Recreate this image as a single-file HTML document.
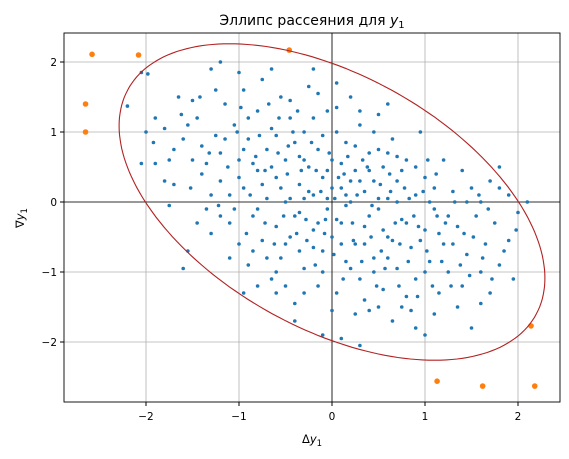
<!DOCTYPE html>
<html><head><meta charset="utf-8">
<style>
html,body{margin:0;padding:0;background:#fff;}
svg{display:block;font-family:"DejaVu Sans","Liberation Sans",sans-serif;}
</style></head>
<body>
<svg id="chart" width="569" height="459">
<text x="312" y="25" text-anchor="middle" font-size="14">Эллипс рассеяния для <tspan font-family="DejaVu Sans" font-style="italic">y</tspan><tspan font-size="10" dy="3">1</tspan></text>
<text x="312" y="443" text-anchor="middle" font-size="11.5">Δ<tspan font-style="italic">y</tspan><tspan font-size="8.5" dy="3">1</tspan></text>
<text transform="translate(24,218) rotate(-90)" text-anchor="middle" font-size="11.5">∇<tspan font-style="italic">y</tspan><tspan font-size="8.5" dy="3">1</tspan></text>
<g id="grid"></g><g id="ticks"></g>
<clipPath id="clip"><rect x="64" y="33" width="496" height="369"/></clipPath>
<g id="marks" clip-path="url(#clip)"></g>
<rect x="64" y="33" width="496" height="369" fill="none" stroke="#000" stroke-width="0.9"/>
</svg>
<script>
const xTicks=[-2,-1,0,1,2];
const yTicks=[-2,-1,0,1,2];
const outliers=[[-2.58,2.11],[-2.08,2.1],[-0.46,2.17],[-2.65,1.4],[-2.65,1.0],[2.14,-1.77],[1.13,-2.56],[1.62,-2.63],[2.18,-2.63]];
const cov=[[5.24,-2.49],[-2.49,5.11]];
const points=[[-2.2,1.37],[-2.05,1.85],[-1.98,1.83],[-2.05,0.55],[-1.92,0.85],[-1.6,-0.95],[-1.55,-0.7],[-1.3,1.9],[-1.2,2.0],[-1.0,1.85],[-0.95,-1.3],[-0.5,-1.2],[-0.1,-1.9],[0.3,-2.05],[0.1,-1.95],[1.0,-1.9],[1.1,-1.6],[1.5,-1.8],[1.6,-1.45],[1.8,-0.9],[1.95,-1.1],[1.98,-0.4],[2.1,0.0],[1.8,0.5],[1.4,0.45],[1.6,0.0],
[-1.9,1.2],[-1.8,1.05],[-1.75,0.6],[-1.7,0.25],[-1.65,1.5],[-1.5,1.45],[-1.45,1.2],[-1.4,0.8],[-1.4,0.4],[-1.35,-0.1],[-1.3,-0.45],[-1.25,0.95],[-1.2,0.7],[-1.2,0.3],[-1.15,1.4],[-1.1,0.1],[-1.1,-0.3],[-1.05,1.1],[-1.0,0.6],[-1.0,-0.6],[-0.95,1.6],[-0.95,0.2],[-0.9,-0.9],[-0.9,0.9],[-0.85,-0.2],[-0.8,1.3],[-0.8,0.45],[-0.75,-0.55],[-0.75,1.75],[-0.7,0.05],[-0.7,0.75],[-0.65,-1.1],[-0.65,1.05],[-0.6,0.35],[-0.6,-0.35],[-0.55,1.5],[-0.55,-0.8],[-0.5,0.6],[-0.5,0.0],[-0.45,1.2],[-0.45,-0.5],[-0.4,0.85],[-0.4,-1.45],[-0.35,0.25],[-0.35,-0.15],[-0.3,1.0],[-0.3,-0.95],[-0.25,0.5],[-0.25,1.65],[-0.2,-0.4],[-0.2,0.1],[-0.15,0.75],[-0.15,-1.2],[-0.1,0.35],[-0.1,-0.7],[-0.05,1.3],[-0.05,-0.1],[0.0,0.6],[0.0,-0.5],[0.05,1.0],[0.05,-1.3],[0.1,0.2],[0.1,-0.3],[0.15,0.85],[0.15,-0.85],[0.2,1.5],[0.2,0.0],[0.25,-0.6],[0.25,0.45],[0.3,-1.1],[0.3,1.1],[0.35,0.15],[0.35,-0.35],[0.4,-1.55],[0.4,0.7],[0.45,-0.8],[0.45,0.3],[0.5,-0.1],[0.5,1.25],[0.55,-1.25],[0.55,0.5],[0.6,-0.5],[0.6,0.05],[0.65,-1.7],[0.65,0.9],[0.7,-0.95],[0.7,0.3],[0.75,-0.25],[0.8,-1.35],[0.8,0.6],[0.85,-0.65],[0.9,0.1],[0.9,-1.1],[0.95,1.0],[1.0,-0.4],[1.0,0.35],[1.05,-0.85],[1.1,-0.1],[1.15,-1.3],[1.2,0.6],[1.2,-0.6],[1.25,-1.0],[1.3,0.15],[1.35,-0.35],[1.4,-1.2],[1.45,-0.75],[1.5,0.2],[1.55,-0.2],[1.65,-0.6],[1.7,0.3],[1.75,-0.3],[1.85,-0.7],[1.9,0.1],
[-1.6,0.9],[-1.3,0.1],[-1.1,-0.8],[-0.85,0.55],[-0.7,-0.8],[-0.55,0.2],[-0.4,-0.2],[-0.3,0.6],[-0.2,-0.65],[-0.1,0.95],[0.0,0.2],[0.05,-0.25],[0.1,0.55],[0.2,-0.95],[0.3,0.3],[0.4,-0.2],[0.5,0.75],[0.6,-0.8],[0.7,0.0],[0.8,-0.3],[0.9,0.5],[1.0,-1.0],[1.1,0.2],[1.3,-0.6],[-0.6,0.95],[-0.5,-0.6],[-0.25,0.15],[-0.15,-0.3],[0.15,0.1],[0.35,-0.6],[0.45,1.0],[0.55,-0.4],[0.75,0.45],[0.95,-0.55],[-1.0,0.35],[-0.9,1.2],[-0.8,-0.1],[-0.65,0.5],[-0.45,1.45],[-0.35,-0.7],[-0.2,1.2],[-0.05,0.45],[0.1,-0.6],[0.25,0.8],[0.35,-1.4],[0.5,0.05],[0.65,-0.55],[0.85,-1.55],[1.05,0.0],[1.25,-0.2],[1.45,0.0],[-1.5,0.6],[-1.2,-0.2],[-0.95,0.75],[-0.75,0.25],[-0.6,-1.0],[-0.3,0.05],[-0.1,-1.0],[0.2,0.3],[0.45,-1.0],[0.7,0.65],[1.15,-0.45],[1.6,-1.0],[-1.8,0.3],[-1.25,1.6],[-0.65,1.9],[0.05,1.7],[0.6,1.4],[0.9,-1.8],[1.35,-1.5],[-0.4,-1.7],[-0.8,-1.2],[1.7,-1.3],[-1.45,-0.3],[-0.2,1.9],
[-1.55,1.1],[-1.35,0.55],[-1.15,0.9],[-1.05,-0.1],[-0.98,1.35],[-0.88,0.1],[-0.78,0.95],[-0.72,-0.3],[-0.68,1.4],[-0.58,0.7],[-0.52,-0.2],[-0.48,0.4],[-0.42,1.0],[-0.38,-0.45],[-0.33,0.45],[-0.28,-0.25],[-0.22,0.85],[-0.18,-0.9],[-0.12,0.15],[-0.08,-0.45],[-0.03,0.7],[0.02,-0.75],[0.07,0.35],[0.12,-1.1],[0.17,0.65],[0.22,-0.3],[0.27,0.1],[0.32,-0.85],[0.38,0.5],[0.42,-0.5],[0.48,-1.2],[0.52,0.25],[0.57,-0.95],[0.62,0.4],[0.68,-0.3],[0.72,-1.2],[0.78,0.2],[0.82,-0.85],[0.88,-0.2],[0.92,-1.35],[0.98,0.15],[1.02,-0.7],[1.08,-1.2],[1.12,0.4],[1.18,-0.85],[1.22,-0.3],[1.28,-1.2],[1.32,0.0],[1.38,-0.9],[1.42,-0.45],[1.48,-1.05],[1.52,-0.5],[1.58,0.1],[1.62,-0.8],[1.68,-0.1],[1.72,-1.1],[-1.7,0.75],[-1.62,1.25],[-1.52,0.2],[-1.42,1.5],[-1.32,0.7],[-1.22,-0.05],[-1.12,0.5],[-1.02,1.0],[-0.92,-0.45],[-0.82,0.65],[-0.72,0.45],[-0.62,-0.6],[-0.57,1.2],[-0.47,0.8],[-0.37,1.3],[-0.27,-0.55],[-0.17,0.45],[-0.07,-0.25],[0.03,0.05],[0.13,0.4],[0.23,-0.55],[0.33,0.6],[0.43,-0.05],[0.53,-0.7],[0.63,0.15],[0.73,-0.6],[0.83,0.05],[0.93,-0.35],[1.03,0.6],[1.13,-0.2],[-0.85,-0.7],[-0.6,-1.3],[-0.3,-1.3],[0.0,-1.55],[0.25,-1.6],[0.5,-1.5],[0.75,-1.5],[0.05,1.35],[-0.15,1.55],[0.3,1.3],[-1.75,-0.05],[-1.9,0.55],[-2.0,1.0],[1.9,-0.55],[2.0,-0.15],[1.8,0.2],[-0.45,0.05],[0.6,0.7],[-0.05,0.05],[0.15,-0.05],[-0.35,0.65],[0.4,0.45]];
const X0=332,XS=93,Y0=202,YS=70;
function sx(v){return X0+v*XS;}
function sy(v){return Y0-v*YS;}
const NS='http://www.w3.org/2000/svg';
const grid=document.getElementById('grid'),ticks=document.getElementById('ticks'),marks=document.getElementById('marks');
xTicks.forEach(t=>{
 const l=document.createElementNS(NS,'line');
 
 
 l.setAttribute('x1',sx(t));l.setAttribute('x2',sx(t));l.setAttribute('y1',33);l.setAttribute('y2',402);
 l.setAttribute('stroke','#b0b0b0');l.setAttribute('stroke-width','0.8');grid.appendChild(l);
 const k=document.createElementNS(NS,'line');
 
 
 k.setAttribute('x1',sx(t));k.setAttribute('x2',sx(t));k.setAttribute('y1',402);k.setAttribute('y2',406);k.setAttribute('stroke','#000');ticks.appendChild(k);
 const tx=document.createElementNS(NS,'text');
 
 
 tx.setAttribute('x',sx(t));tx.setAttribute('y',420);tx.setAttribute('text-anchor','middle');tx.setAttribute('font-size','10.5');
 tx.textContent=t<0?'−'+(-t):String(t);ticks.appendChild(tx);
});
yTicks.forEach(t=>{
 const l=document.createElementNS(NS,'line');
 
 
 l.setAttribute('y1',sy(t));l.setAttribute('y2',sy(t));l.setAttribute('x1',64);l.setAttribute('x2',560);
 l.setAttribute('stroke','#b0b0b0');l.setAttribute('stroke-width','0.8');grid.appendChild(l);
 const k=document.createElementNS(NS,'line');
 
 
 k.setAttribute('y1',sy(t));k.setAttribute('y2',sy(t));k.setAttribute('x1',60);k.setAttribute('x2',64);k.setAttribute('stroke','#000');ticks.appendChild(k);
 const tx=document.createElementNS(NS,'text');
 
 
 tx.setAttribute('x',57);tx.setAttribute('y',sy(t)+4);tx.setAttribute('text-anchor','end');tx.setAttribute('font-size','10.5');
 tx.textContent=t<0?'−'+(-t):String(t);ticks.appendChild(tx);
});
[[sx(0),33,sx(0),402],[64,sy(0),560,sy(0)]].forEach(c=>{
 const l=document.createElementNS(NS,'line');
 
 
 l.setAttribute('x1',c[0]);l.setAttribute('y1',c[1]);l.setAttribute('x2',c[2]);l.setAttribute('y2',c[3]);
 l.setAttribute('stroke','#000');l.setAttribute('stroke-width','0.8');marks.appendChild(l);
});
points.forEach(p=>{
 const c=document.createElementNS(NS,'circle');
 
 
 c.setAttribute('cx',sx(p[0]));c.setAttribute('cy',sy(p[1]));c.setAttribute('r',1.8);c.setAttribute('fill','#1f77b4');marks.appendChild(c);
});
outliers.forEach(p=>{
 const c=document.createElementNS(NS,'circle');
 
 
 c.setAttribute('cx',sx(p[0]));c.setAttribute('cy',sy(p[1]));c.setAttribute('r',2.8);c.setAttribute('fill','#ff7f0e');marks.appendChild(c);
});
const L11=Math.sqrt(cov[0][0]),L21=cov[1][0]/L11,L22=Math.sqrt(cov[1][1]-L21*L21);
let d='';
for(let i=0;i<=200;i++){const t=i/200*2*Math.PI;const x=L11*Math.cos(t),y=L21*Math.cos(t)+L22*Math.sin(t);d+=(i?'L':'M')+sx(x).toFixed(1)+','+sy(y).toFixed(1);}
const e=document.createElementNS(NS,'path');


e.setAttribute('d',d+'Z');e.setAttribute('fill','none');e.setAttribute('stroke','#b22222');e.setAttribute('stroke-width','1.1');marks.appendChild(e);
</script>
</body></html>
